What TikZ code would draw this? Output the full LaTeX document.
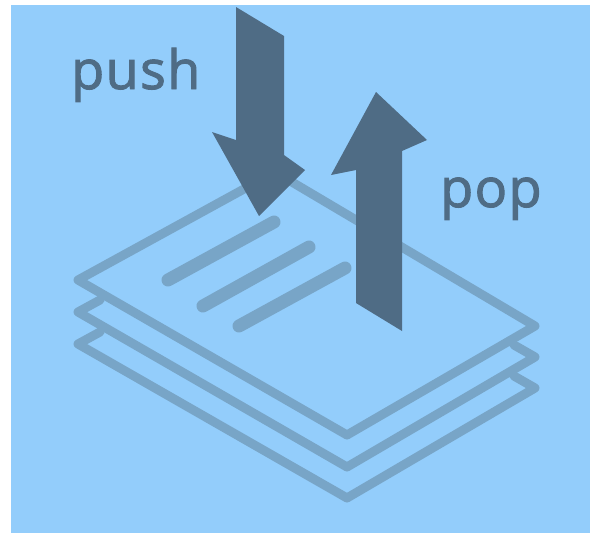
\documentclass[tikz,border=0pt]{standalone}
\usepackage{fontspec}
\setmainfont{Open Sans}
\newfontfamily\labfont[FakeBold=1.8,LetterSpace=2.5]{Open Sans}
\definecolor{bgblue}{HTML}{93CDFB}
\definecolor{sheetc}{HTML}{78A5C7}
\definecolor{arrowc}{HTML}{4F6C85}
\tikzset{
  sheet/.style={draw=sheetc,line width=9pt,line join=round,line cap=round},
  bar/.style={draw=sheetc,line width=13pt,line cap=round},
  bigarrow/.style={fill=arrowc,draw=none},
  lab/.style={text=arrowc,font=\labfont\fontsize{54}{54}\selectfont,inner sep=0pt,anchor=base west}
}
\begin{document}
\begin{tikzpicture}[x=1pt,y=-1pt]
\useasboundingbox (0,0) rectangle (590,533);
\fill[white] (0,0) rectangle (590,533);
\fill[bgblue] (11,5) rectangle (590,533);
% stacked sheets
\draw[sheet] (100,300) -- (78,312) -- (347,467) -- (535,357) -- (514,345);
\draw[sheet] (100,332) -- (78,344) -- (347,498) -- (535,388) -- (514,376);
\draw[sheet] (78,280) -- (275,172) -- (535,326) -- (347,435) -- cycle;
% text bars
\draw[bar] (168,280) -- (274,222);
\draw[bar] (203,306) -- (309,247);
\draw[bar] (239,326) -- (345,268);
% arrows
\path[bigarrow] (236,7) -- (284,36) -- (284,155) -- (305,170) -- (259,216) -- (212,132) -- (236,140) -- cycle;
\path[bigarrow] (402,331) -- (356,303) -- (356,170) -- (331,175) -- (376,92) -- (427,140) -- (402,151) -- cycle;
\node[lab] (pushlabel) at (71,89) {push};
\node[lab] (poplabel) at (440,207) {pop};
\end{tikzpicture}
\end{document}
